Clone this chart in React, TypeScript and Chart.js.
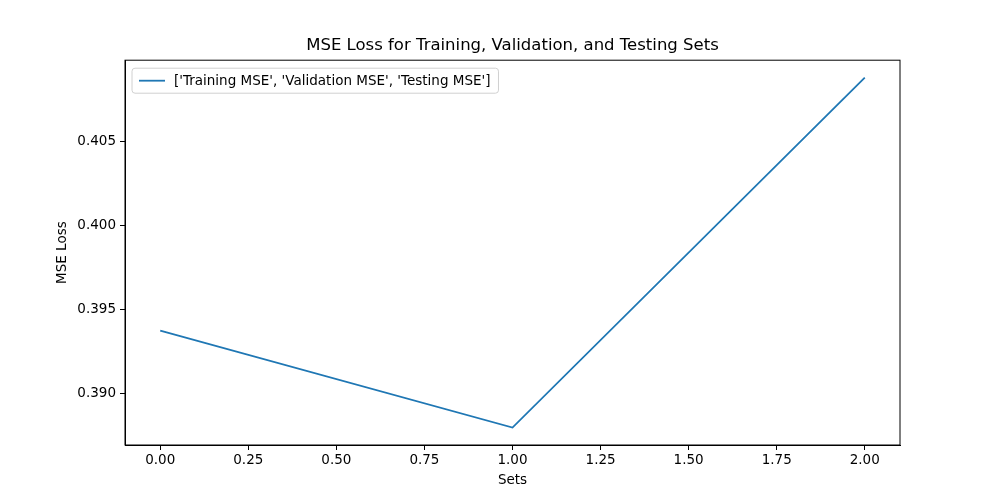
import { useRef, useEffect } from 'react';
import { Chart, registerables } from 'chart.js';

Chart.register(...registerables);

const xValues = [0, 1, 2];
const mseValues = [0.39375, 0.38798, 0.40881];
const seriesLabel = "['Training MSE', 'Validation MSE', 'Testing MSE']";
const titleText = 'MSE Loss for Training, Validation, and Testing Sets';
const xTicks = [0, 0.25, 0.5, 0.75, 1, 1.25, 1.5, 1.75, 2];
const yTicks = [0.39, 0.395, 0.4, 0.405];

const FONT = 'DejaVu Sans';
const BLUE = '#1f77b4';

const frameAndLegend = {
  id: 'frameAndLegend',
  afterDraw(chart: Chart) {
    const { ctx, chartArea: a } = chart;
    ctx.save();
    ctx.strokeStyle = '#000';
    ctx.lineWidth = 1;
    ctx.strokeRect(a.left, a.top, a.right - a.left, a.bottom - a.top);
    // title centred over the plot area
    ctx.fillStyle = '#000';
    ctx.font = `16.5px ${FONT}`;
    ctx.textAlign = 'center';
    ctx.textBaseline = 'middle';
    ctx.fillText(titleText, (a.left + a.right) / 2, 46);
    ctx.textAlign = 'left';
    ctx.font = `13.5px ${FONT}`;
    const tw = ctx.measureText(seriesLabel).width;
    const bx = a.left + 7, by = a.top + 8, bw = tw + 50, bh = 25;
    ctx.fillStyle = 'rgba(255,255,255,0.8)';
    ctx.strokeStyle = '#d0d0d0';
    ctx.beginPath();
    ctx.roundRect(bx, by, bw, bh, 3);
    ctx.fill();
    ctx.stroke();
    ctx.strokeStyle = BLUE;
    ctx.lineWidth = 1.8;
    ctx.beginPath();
    ctx.moveTo(bx + 7, by + bh / 2);
    ctx.lineTo(bx + 33, by + bh / 2);
    ctx.stroke();
    ctx.fillStyle = '#000';
    ctx.fillText(seriesLabel, bx + 42, by + bh / 2 + 1);
    ctx.restore();
  },
};

export default function App() {
  const canvasRef = useRef<HTMLCanvasElement>(null);

  useEffect(() => {
    document.body.style.margin = '0';
    if (!canvasRef.current) return;
    const chart = new Chart(canvasRef.current, {
      type: 'line',
      data: {
        datasets: [{
          label: seriesLabel,
          data: xValues.map((x, i) => ({ x, y: mseValues[i] })),
          borderColor: BLUE,
          borderWidth: 1.8,
          pointRadius: 0,
          tension: 0,
        }],
      },
      options: {
        responsive: false,
        animation: false,
        layout: { padding: { left: 0, right: 100, top: 0, bottom: 0 } },
        plugins: {
          legend: { display: false },
          tooltip: { enabled: false },
          title: {
            display: true,
            text: titleText,
            color: 'rgba(0,0,0,0)',
            font: { family: FONT, size: 16, weight: 'normal' },
            padding: { top: 36, bottom: 5 },
          },
        },
        scales: {
          x: {
            type: 'linear',
            min: -0.1,
            max: 2.1,
            afterBuildTicks: (s: any) => { s.ticks = xTicks.map(v => ({ value: v })); },
            afterFit: (s: any) => { s.height = 55; },
            ticks: {
              color: '#000',
              font: { family: FONT, size: 13.5 },
              padding: 2,
              maxRotation: 0,
              callback: (v: any) => Number(v).toFixed(2),
            },
            grid: { drawOnChartArea: false, drawTicks: true, tickLength: 5, color: '#000' },
            border: { color: '#000' },
            title: {
              display: true,
              text: 'Sets',
              color: '#000',
              font: { family: FONT, size: 13.5 },
              padding: { top: 11, bottom: 11 },
            },
          },
          y: {
            type: 'linear',
            min: 0.38694,
            max: 0.40985,
            afterBuildTicks: (s: any) => { s.ticks = yTicks.map(v => ({ value: v })); },
            afterFit: (s: any) => { s.width = 125; },
            ticks: {
              color: '#000',
              font: { family: FONT, size: 13.5 },
              padding: 4,
              callback: (v: any) => Number(v).toFixed(3),
            },
            grid: { drawOnChartArea: false, drawTicks: true, tickLength: 5, color: '#000' },
            border: { color: '#000' },
            title: {
              display: true,
              text: 'MSE Loss',
              color: '#000',
              font: { family: FONT, size: 13.5 },
              padding: { top: 54, bottom: 54 },
            },
          },
        },
      },
      plugins: [frameAndLegend],
    });
    return () => chart.destroy();
  }, []);

  return <canvas ref={canvasRef} width={1000} height={500} style={{ display: 'block' }} />;
}
